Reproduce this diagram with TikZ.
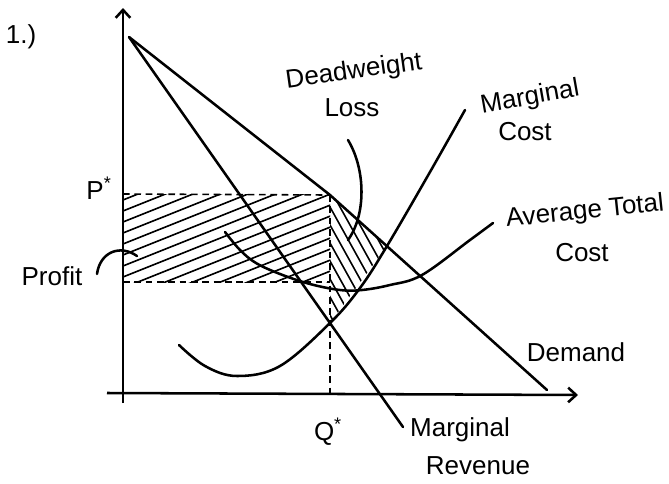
\documentclass[tikz,border=0pt]{standalone}
\usepackage{fontspec}
\setmainfont{Liberation Sans}
\usetikzlibrary{arrows.meta}

\begin{document}
\begin{tikzpicture}[
    x=0.75pt, y=-0.75pt,
    curve/.style={line width=1.9pt, line cap=round, line join=round},
    axis/.style={line width=1.9pt, -{Straight Barb[length=6pt,width=11pt,line width=1.9pt]}},
    guide/.style={line width=1.2pt, dash pattern=on 5pt off 3.5pt},
    hatch/.style={line width=1.2pt},
    lbl/.style={font=\fontsize{19.5}{22}\selectfont, inner sep=0pt}
]
\useasboundingbox (0,0) rectangle (669,483);

% key points
\coordinate (origin) at (123,393);
\coordinate (ytop) at (123,8);
\coordinate (ybot) at (123,403);
\coordinate (xleft) at (107,393);
\coordinate (xright) at (578,395);
\coordinate (peak) at (129,37);
\coordinate (pstar) at (330,195);
\coordinate (dend) at (547,390);
\coordinate (mrend) at (403,427);
\coordinate (mcmr) at (330,323);
\coordinate (mcd) at (387,246);
\coordinate (plow) at (330,282);
\coordinate (qstar) at (330,395);

% hatching: profit
\begin{scope}
  \clip (123,194) rectangle (pstar |- plow);
  \foreach \k in {0,...,15}
    \draw[hatch] (123,{200+11*\k}) -- ++(230,-92);
\end{scope}

% hatching: deadweight loss
\begin{scope}
  \clip (pstar) -- (mcd) -- (mcmr) -- cycle;
  \foreach \k in {0,...,9}
    \draw[hatch] ({255+10*\k},180) -- ++(100,180);
\end{scope}

% axes
\draw[axis] (ybot) -- (ytop);
\draw[axis] (xleft) -- (xright);

% dashed guides
\draw[guide] (123,194) -- (pstar);
\draw[guide] (123,282) -- (plow);
\draw[guide] (pstar) -- (qstar);

% demand and marginal revenue
\draw[curve] (peak) -- (pstar) -- (dend);
\draw[curve] (peak) -- (mrend);

% marginal cost
\draw[curve] plot[smooth, tension=0.6] coordinates {(179,345) (205,366) (237,376) (280,366) (mcmr) (360,288) (mcd) (430,172) (465,110)};

% average total cost
\draw[curve] plot[smooth, tension=0.6] coordinates {(225,232) (240,250) (256,263) (280,274) (310,284) (340,290) (362,290) (390,285) (422,275) (470,240) (493,223)};

% pointers
\draw[curve] (348,140) .. controls (366,170) and (366,215) .. (348,240);
\draw[curve] (97,274) .. controls (100,252) and (120,244) .. (137,256);

% labels
\node[lbl] (num) at (21,37) {1.)};
\node[lbl] (plabel) at (99,188) {P\textsuperscript{*}};
\node[lbl] (qlabel) at (328,432) {Q\textsuperscript{*}};
\node[lbl] (profit) at (52,276) {Profit};
\node[lbl, rotate=8] (dw) at (354,72) {Deadweight};
\node[lbl] (loss) at (352,108) {Loss};
\node[lbl, rotate=10] (mcname) at (530,98) {Marginal};
\node[lbl] (mccost) at (525,132) {Cost};
\node[lbl, rotate=6] (atcname) at (585,212) {Average Total};
\node[lbl] (atccost) at (582,253) {Cost};
\node[lbl] (demand) at (576,352) {Demand};
\node[lbl] (mrname) at (460,430) {Marginal};
\node[lbl] (mrrev) at (478,466) {Revenue};
\end{tikzpicture}
\end{document}
